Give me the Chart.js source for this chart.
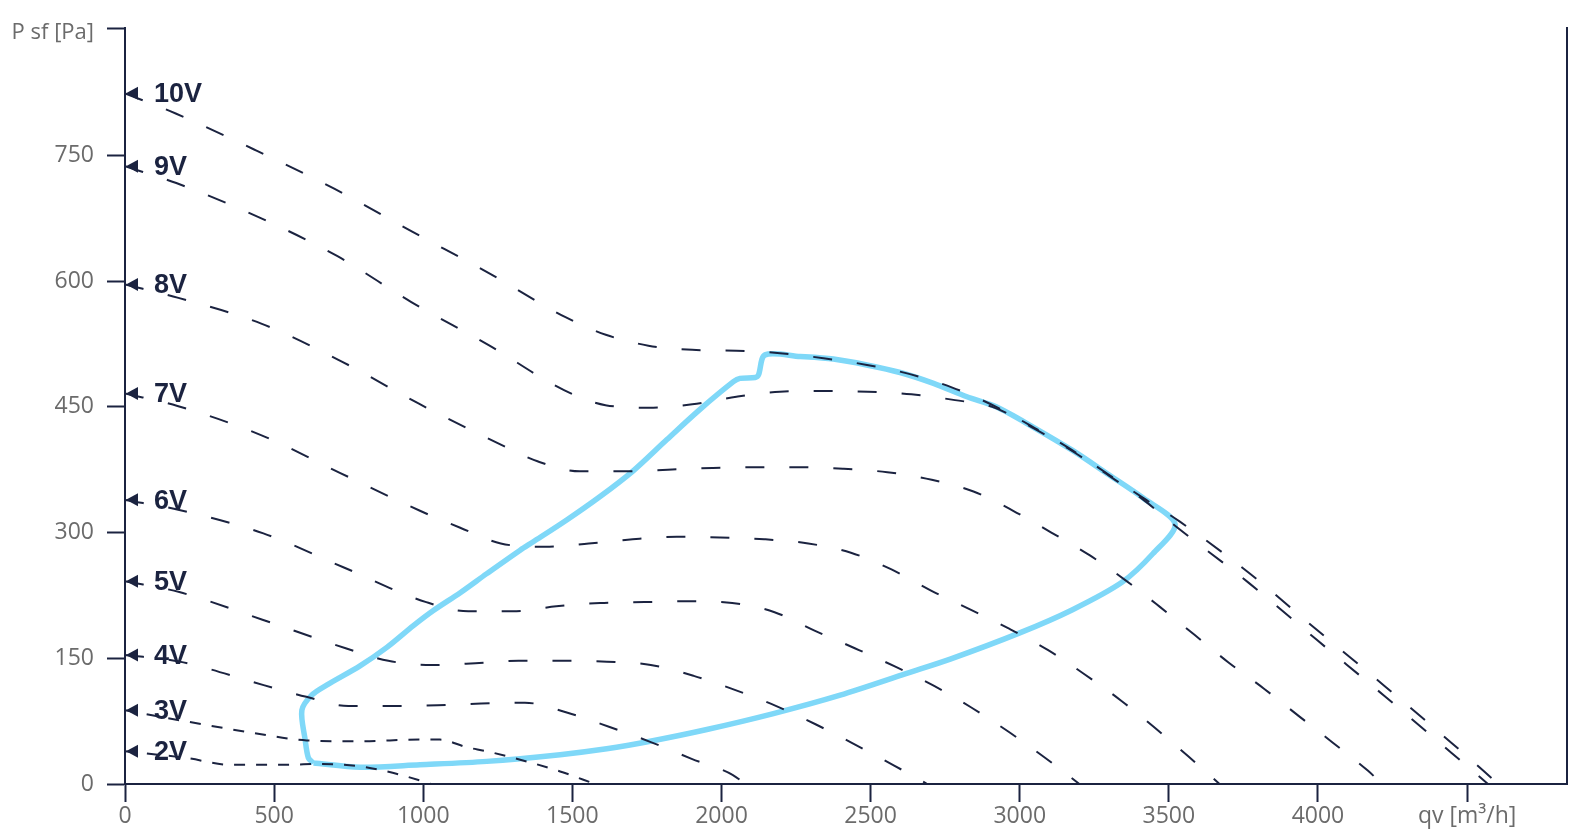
<!DOCTYPE html>
<html>
<head>
<meta charset="utf-8">
<title>Fan pressure curves</title>
<script src="https://cdn.jsdelivr.net/npm/chart.js@4.4.1/dist/chart.umd.min.js"></script>
<style>
  html, body { margin: 0; padding: 0; background: #fff; }
  #wrap { width: 1588px; height: 834px; position: relative; }
</style>
</head>
<body>
<div id="wrap"><canvas id="fanChart"></canvas></div>
<script>
// [qv m3/h, P sf Pa]
const v10 = [[0,824],[170,800],[439,756],[703,710],[963,659],[1223,609],[1477,557],[1612,536],[1755,523],[1902,518],[2050,517],[2196,514],[2342,508],[2488,500],[2632,489],[2774,473],[2921,450],[3049,425],[3177,398],[3299,369],[3415,341],[3537,313],[3768,252],[3996,184],[4223,117],[4448,49],[4605,0]];
const v9 = [[0,737],[172,717],[444,677],[711,630],[960,575],[1218,524],[1472,470],[1611,452],[1757,449],[1902,453],[2050,462],[2196,468],[2343,469],[2491,468],[2637,465],[2783,458],[2908,450],[3049,424],[3177,397],[3299,368],[3415,339],[3525,307],[3768,240],[3996,172],[4223,105],[4448,37],[4570,0]];
const v8 = [[0,596],[179,580],[459,549],[727,504],[984,454],[1248,407],[1383,385],[1525,373],[1673,373],[1820,375],[1969,377],[2116,378],[2265,378],[2410,376],[2556,372],[2705,363],[2845,349],[2978,326],[3106,300],[3234,273],[3355,243],[3471,211],[3586,178],[3700,145],[3818,114],[3936,81],[4051,49],[4167,16],[4215,0]];
const v7 = [[0,466],[176,451],[458,416],[722,371],[989,326],[1122,306],[1260,287],[1409,283],[1555,287],[1702,292],[1850,295],[1996,294],[2143,292],[2291,287],[2434,276],[2570,256],[2701,231],[2835,208],[2966,185],[3094,160],[3217,131],[3338,100],[3453,67],[3565,33],[3670,0]];
const v6 = [[0,339],[182,327],[464,299],[736,258],[1010,217],[1151,206],[1300,206],[1446,212],[1593,216],[1742,217],[1887,218],[2036,216],[2178,205],[2312,183],[2447,162],[2583,140],[2713,117],[2839,91],[2964,62],[3086,31],[3200,0]];
const v5 = [[0,242],[182,229],[461,196],[740,162],[883,147],[1027,142],[1175,144],[1319,147],[1470,147],[1616,146],[1763,142],[1907,129],[2047,112],[2184,93],[2317,71],[2448,47],[2579,22],[2690,0]];
const v4 = [[0,154],[183,146],[465,118],[608,104],[749,93],[900,93],[1048,94],[1194,96],[1341,97],[1484,85],[1625,68],[1763,50],[1900,30],[2037,11],[2080,0]];
const v3 = [[0,88],[184,76],[430,61],[609,52],[788,51],[989,53],[1056,53],[1144,44],[1213,39],[1325,29],[1459,15],[1576,0]];
const v2 = [[0,39],[207,31],[352,23],[542,23],[654,24],[788,21],[878,15],[1000,3],[1025,0]];

// working area of the fan (closed loop)
const envelope = [[632,25],[788,20],[989,23],[1213,27],[1459,35],[1615,42],[1761,51],[1951,65],[2174,84],[2398,106],[2621,132],[2767,149],[2998,180],[3177,208],[3344,241],[3447,275],[3521,310],
  [3415,341],[3299,369],[3177,398],[3049,425],[2921,450],[2823,462],[2711,478],[2599,491],[2487,500],[2375,507],[2264,510],[2146,512],
  [2124,488],[2113,485],[2062,484],[2040,480],[1928,447],[1817,411],[1705,374],[1593,343],[1481,315],[1369,289],[1325,279],[1213,251],[1123,228],[1034,207],[967,189],[878,163],[788,141],[676,118],[626,106],[593,88],[604,53],[615,31],[632,25]];

const voltageCurves = [v10, v9, v8, v7, v6, v5, v4, v3, v2];
const voltageNames = ['10V', '9V', '8V', '7V', '6V', '5V', '4V', '3V', '2V'];

const xTickValues = [0, 500, 1000, 1500, 2000, 2500, 3000, 3500, 4000, 4500];
const xTickLabels = ['0', '500', '1000', '1500', '2000', '2500', '3000', '3500', '4000', 'qv [m³/h]'];
const yTickValues = [0, 150, 300, 450, 600, 750, 902];
const yTickLabels = ['0', '150', '300', '450', '600', '750', 'P sf [Pa]'];
const xMax = 4835;
const yMax = 902;

const navy = '#1b2340';
const grey = '#6b6b6b';
const tickFont = { family: '"Open Sans", sans-serif', size: 23 };

const toPoints = arr => arr.map(([x, y]) => ({ x, y }));

// arrow + "xV" label at the start of each voltage curve, and the y axis title
const voltageLabels = {
    id: 'voltageLabels',
    afterDatasetsDraw(chart) {
        const ctx = chart.ctx;
        const x0 = chart.scales.x.getPixelForValue(0);
        ctx.save();
        ctx.fillStyle = navy;
        ctx.font = 'bold 27px "Liberation Sans", Arial, sans-serif';
        ctx.textBaseline = 'middle';
        chart.data.datasets.forEach((ds, i) => {
            if (!ds.voltage) return;
            const pt = chart.getDatasetMeta(i).data[0];
            ctx.beginPath();
            ctx.moveTo(x0 + 1, pt.y);
            ctx.lineTo(x0 + 13, pt.y - 6.5);
            ctx.lineTo(x0 + 13, pt.y + 6.5);
            ctx.closePath();
            ctx.fill();
            ctx.fillText(ds.label, x0 + 29, pt.y + 1.5);
        });

        // top tick label sits a little lower than its tick in the original
        const yScale = chart.scales.y;
        ctx.fillStyle = grey;
        ctx.font = '22px "Open Sans", sans-serif';
        ctx.textAlign = 'right';
        ctx.fillText(yTickLabels[yTickLabels.length - 1], yScale.right - 31, yScale.getPixelForValue(yMax) + 5);
        ctx.restore();
    }
};

function initChart() {
    const ctx = document.getElementById('fanChart').getContext('2d');

    const datasets = voltageCurves.map((curve, i) => ({
        label: voltageNames[i],
        voltage: true,
        data: toPoints(curve),
        borderColor: navy,
        borderWidth: 2,
        borderDash: i >= 7 ? [11, 11] : [19, 25],
        cubicInterpolationMode: 'monotone',
        pointRadius: 0,
        fill: false
    }));

    datasets.push({
        label: 'envelope',
        data: toPoints(envelope),
        borderColor: '#7fd8f8',
        borderWidth: 5.5,
        tension: 0.3,
        pointRadius: 0,
        fill: false
    });

    new Chart(ctx, {
        type: 'line',
        data: { datasets },
        options: {
            responsive: true,
            maintainAspectRatio: false,
            animation: false,
            events: [],
            layout: { padding: { top: 28, left: 0, right: 0, bottom: 0 } },
            scales: {
                x: {
                    type: 'linear',
                    min: 0,
                    max: xMax,
                    afterBuildTicks: s => { s.ticks = xTickValues.map(v => ({ value: v })); },
                    afterFit: s => { s.height = 50; },
                    grid: { drawOnChartArea: false, tickLength: 18, tickWidth: 2, tickColor: navy },
                    border: { color: navy, width: 2 },
                    ticks: {
                        color: grey,
                        font: tickFont,
                        padding: 1,
                        maxRotation: 0,
                        autoSkip: false,
                        callback: v => xTickLabels[xTickValues.indexOf(v)]
                    }
                },
                y: {
                    type: 'linear',
                    min: 0,
                    max: yMax,
                    afterBuildTicks: s => { s.ticks = yTickValues.map(v => ({ value: v })); },
                    afterFit: s => { s.width = 125; },
                    grid: { drawOnChartArea: false, tickLength: 18, tickWidth: 2, tickColor: navy },
                    border: { color: navy, width: 2 },
                    ticks: {
                        color: grey,
                        font: tickFont,
                        padding: 13,
                        autoSkip: false,
                        // the top label is drawn by the plugin
                        callback: v => (v === yMax ? '' : yTickLabels[yTickValues.indexOf(v)])
                    }
                },
                yRight: {
                    position: 'right',
                    afterFit: s => { s.width = 21; },
                    grid: { display: false },
                    ticks: { display: false },
                    border: { color: navy, width: 2 }
                }
            },
            plugins: {
                legend: { display: false },
                tooltip: { enabled: false }
            }
        },
        plugins: [voltageLabels]
    });
}

document.addEventListener('DOMContentLoaded', initChart);
</script>
</body>
</html>
